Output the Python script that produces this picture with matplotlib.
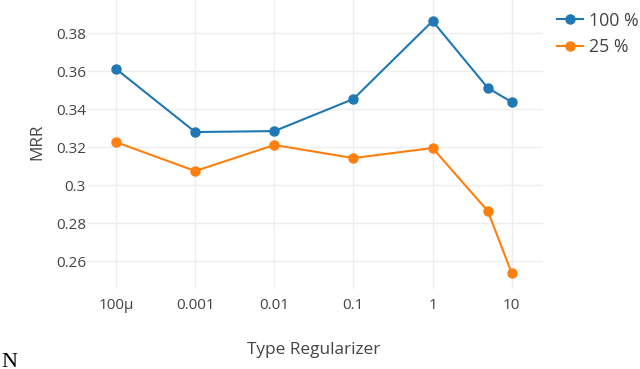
import matplotlib
matplotlib.use("Agg")
import matplotlib.pyplot as plt

x_vals = [1e-4, 1e-3, 1e-2, 1e-1, 1, 5, 10]
tick_vals = [1e-4, 1e-3, 1e-2, 1e-1, 1, 10]
tick_labels = ["100μ", "0.001", "0.01", "0.1", "1", "10"]
y_ticks = [0.26, 0.28, 0.30, 0.32, 0.34, 0.36, 0.38]
y_tick_labels = ["0.26", "0.28", "0.3", "0.32", "0.34", "0.36", "0.38"]
mrr_100 = [0.3611, 0.3279, 0.3284, 0.3453, 0.3863, 0.3511, 0.3437]
mrr_25 = [0.3226, 0.3074, 0.3211, 0.3142, 0.3195, 0.2863, 0.2537]
series_names = ["100 %", "25 %"]

plt.rcParams['font.family'] = ['Open Sans', 'DejaVu Sans']

fig = plt.figure(figsize=(6.4, 3.69), dpi=100)
ax = fig.add_axes([88/640, 80/369, (543-88)/640, 289/369])

c1, c2 = "#1f77b4", "#ff7f0e"
l1, = ax.plot(x_vals, mrr_100, color=c1, lw=1.5, marker='o', ms=6.5, label=series_names[0], clip_on=False, zorder=3)
l2, = ax.plot(x_vals, mrr_25, color=c2, lw=1.5, marker='o', ms=6.5, label=series_names[1], clip_on=False, zorder=3)

ax.set_xscale('log')
ax.set_xlim(10**-4.355, 10**1.396)
ax.set_ylim(0.2453, 0.3974)
ax.set_xticks(tick_vals)
ax.set_xticklabels(tick_labels)
ax.minorticks_off()
ax.set_yticks(y_ticks)
ax.set_yticklabels(y_tick_labels)
ax.grid(True, color="#eeeeee", lw=1)
ax.set_axisbelow(True)
for s in ax.spines.values():
    s.set_visible(False)
ax.tick_params(length=0, colors="#444444", labelsize=11)
ax.tick_params(axis='x', pad=6.5)
ax.tick_params(axis='y', pad=1.5)

fig.text(314/640, 1 - 350/369, "Type Regularizer", ha='center', va='center', fontsize=12.4, color="#444444")
fig.text(37/640, 1 - 142/369, "MRR", ha='center', va='center', rotation=90, fontsize=12.4, color="#444444")

leg = fig.legend(handles=[l1, l2], loc='upper left', bbox_to_anchor=(557/640, 1 - 11.7/369),
                 frameon=False, fontsize=12.8, handlelength=1.46, handletextpad=0.34,
                 labelspacing=0.48, labelcolor="#444444", borderaxespad=0, borderpad=0)

fig.text(1/640, 1 - 367/369, "N", family=['Liberation Serif'], fontsize=16, color='black', ha='left', va='baseline')

fig.savefig("out.png", dpi=100)
